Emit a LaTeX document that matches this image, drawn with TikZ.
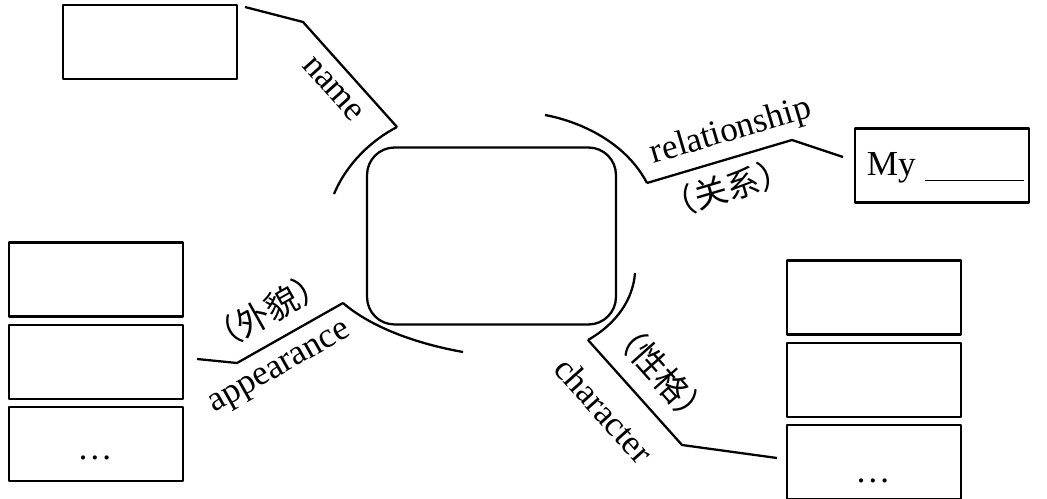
\documentclass[tikz,border=0pt]{standalone}
\usepackage{fontspec}
\setmainfont{Liberation Serif}
\newfontfamily\cjk{Noto Sans CJK SC}
\usetikzlibrary{positioning}

\tikzset{
  box/.style={draw, minimum width=3.48cm, minimum height=1.48cm, inner sep=0pt},
  en/.style={font=\fontsize{20}{24}\selectfont, inner sep=1pt},
  zh/.style={font=\cjk\fontsize{19}{23}\selectfont, inner sep=1pt},
}

\begin{document}
\begin{tikzpicture}[x=0.02cm, y=-0.02cm, line width=1.3pt, line join=round, node distance=0.12cm]
  \useasboundingbox (0,0) rectangle (1047,499);

  % centre
  \node[draw, rounded corners=0.55cm, minimum width=4.98cm, minimum height=3.54cm] (me) at (491.5,236) {};

  % name
  \node[box] (namebox) at (150,42) {};
  \coordinate (n0) at (245,7);
  \coordinate (n1) at (303,22);
  \coordinate (n2) at (397,127);
  \coordinate (n3) at (334,194);
  \draw (n0) -- (n1) -- (n2);
  \draw (n2) .. controls (372,140) and (347,163) .. (n3);
  \node[en, rotate=-48.2] (name) at (333,89) {name};

  % relationship
  \node[box] (relbox) at (942,165.5) {};
  \node[en, anchor=base west] (my) at (864,176) {My \rule[-3pt]{2cm}{0.7pt}};
  \coordinate (r0) at (545,115);
  \coordinate (r1) at (647,183);
  \coordinate (r2) at (792,140);
  \coordinate (r3) at (843,157);
  \draw (r0) .. controls (582,122) and (626,143) .. (r1);
  \draw (r1) -- (r2) -- (r3);
  \node[en, rotate=16.5] (rel) at (731,132) {relationship};
  \node[zh, rotate=16.5] (relzh) at (727,188) {（关系）};

  % appearance
  \node[box] (look1) at (96,279.5) {};
  \node[box, below=of look1] (look2) {};
  \node[box, below=of look2] (look3) {};
  \node[en] (lookdots) at (95,458) {\dots};
  \coordinate (a0) at (197,359);
  \coordinate (a1) at (237,363);
  \coordinate (a2) at (343,303);
  \coordinate (a3) at (463,352);
  \draw (a0) -- (a1) -- (a2);
  \draw (a2) .. controls (372,328) and (418,344) .. (a3);
  \node[en, rotate=29.5] (look) at (281,370) {appearance};
  \node[zh, rotate=29.5] (lookzh) at (267,311) {（外貌）};

  % character
  \node[box] (char1) at (874,297.5) {};
  \node[box, below=of char1] (char2) {};
  \node[box, below=of char2] (char3) {};
  \node[en] (chardots) at (873,481) {\dots};
  \coordinate (c0) at (635,273);
  \coordinate (c1) at (588,340);
  \coordinate (c2) at (682,445);
  \coordinate (c3) at (777,458);
  \draw (c0) .. controls (633,300) and (616,324) .. (c1);
  \draw (c1) -- (c2) -- (c3);
  \node[en, rotate=-48.2] (char) at (604,410) {character};
  \node[zh, rotate=-48.2] (charzh) at (661,373) {（性格）};
\end{tikzpicture}
\end{document}
